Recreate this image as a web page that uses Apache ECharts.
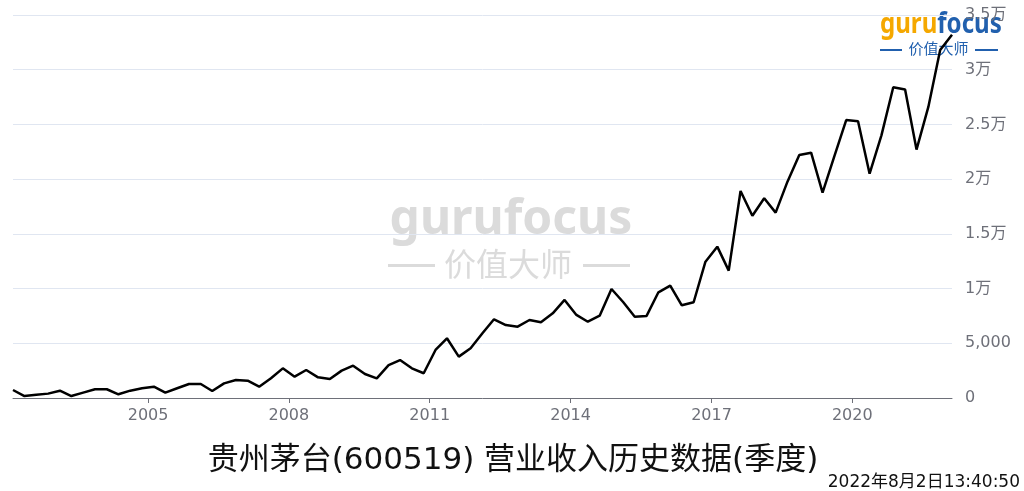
<!DOCTYPE html>
<html>
<head>
<meta charset="utf-8">
<script src="https://cdn.jsdelivr.net/npm/echarts@6/dist/echarts.min.js"></script>
<style>
html,body{margin:0;padding:0;background:#fff;}
#c{width:1024px;height:491px;}
</style>
</head>
<body>
<div id="c"></div>
<script>
// Quarterly periods (plotted at mid-month of the reporting month)
const quarters = [
'2002-02-15','2002-05-15','2002-08-15','2002-11-15',
'2003-02-15','2003-05-15','2003-08-15','2003-11-15',
'2004-02-15','2004-05-15','2004-08-15','2004-11-15',
'2005-02-15','2005-05-15','2005-08-15','2005-11-15',
'2006-02-15','2006-05-15','2006-08-15','2006-11-15',
'2007-02-15','2007-05-15','2007-08-15','2007-11-15',
'2008-02-15','2008-05-15','2008-08-15','2008-11-15',
'2009-02-15','2009-05-15','2009-08-15','2009-11-15',
'2010-02-15','2010-05-15','2010-08-15','2010-11-15',
'2011-02-15','2011-05-15','2011-08-15','2011-11-15',
'2012-02-15','2012-05-15','2012-08-15','2012-11-15',
'2013-02-15','2013-05-15','2013-08-15','2013-11-15',
'2014-02-15','2014-05-15','2014-08-15','2014-11-15',
'2015-02-15','2015-05-15','2015-08-15','2015-11-15',
'2016-02-15','2016-05-15','2016-08-15','2016-11-15',
'2017-02-15','2017-05-15','2017-08-15','2017-11-15',
'2018-02-15','2018-05-15','2018-08-15','2018-11-15',
'2019-02-15','2019-05-15','2019-08-15','2019-11-15',
'2020-02-15','2020-05-15','2020-08-15','2020-11-15',
'2021-02-15','2021-05-15','2021-08-15','2021-11-15',
'2022-02-15'
];
// 营业收入 (quarterly)
const revenue = [
730, 180, 300, 400, 670, 180, 490, 800, 800, 340,
670, 890, 1030, 490, 890, 1280, 1280, 640, 1340, 1640,
1580, 1030, 1800, 2710, 1950, 2560, 1890, 1740, 2500, 2950,
2190, 1800, 3000, 3470, 2710, 2260, 4390, 5460, 3780, 4540,
5910, 7190, 6670, 6520, 7130, 6920, 7740, 8960, 7590, 6970,
7520, 9960, 8750, 7430, 7500, 9660, 10270, 8470, 8750, 12460,
13830, 11640, 18920, 16660, 18250, 16940, 19770, 22210, 22420, 18770,
22100, 25400, 25300, 20500, 24000, 28400, 28200, 22700, 26600, 31800,
33200
];
const tickYears = ['2005','2008','2011','2014','2017','2020'];
const yTicks = [0, 5000, 10000, 15000, 20000, 25000, 30000, 35000];
const titleText = '贵州茅台(600519) 营业收入历史数据(季度)';
const stampText = '2022年8月2日13:40:50';

const chart = echarts.init(document.getElementById('c'));
const ts = s => Date.parse(s + 'T00:00:00Z');
const seriesData = quarters.map((q, i) => [ts(q), revenue[i]]);
const tickTs = tickYears.map(y => ts(y + '-01-01'));
const fontCJK = '"Noto Sans CJK SC", "Noto Sans", sans-serif';
const fontMix = '"DejaVu Sans", "Noto Sans CJK SC", sans-serif';
const wmColor = '#dbdbdb';
const blue = '#2160AE';

chart.setOption({
  animation: false,
  backgroundColor: '#fff',
  grid: { left: 13, right: 72, top: 15, bottom: 93, containLabel: false },
  xAxis: {
    type: 'value',
    min: ts(quarters[0]),
    max: ts(quarters[quarters.length - 1]),
    splitLine: { show: false },
    axisLine: { lineStyle: { color: '#6E7079', width: 1 } },
    axisTick: { show: true, customValues: tickTs, length: 5 },
    axisLabel: {
      customValues: tickTs,
      formatter: v => String(new Date(v).getUTCFullYear()),
      color: '#6E7079', fontSize: 16, margin: 10, fontFamily: fontMix
    }
  },
  yAxis: {
    type: 'value',
    position: 'right',
    min: yTicks[0],
    max: yTicks[yTicks.length - 1],
    interval: 5000,
    axisLine: { show: false },
    axisTick: { show: false },
    splitLine: { lineStyle: { color: '#E0E6F1' } },
    axisLabel: {
      margin: 13,
      color: '#6E7079', fontSize: 16, fontFamily: fontMix,
      formatter: v => v === 0 ? '0' : (v < 10000 ? v.toLocaleString('en-US') : (v / 10000) + '万')
    }
  },
  series: [{
    type: 'line',
    data: seriesData,
    showSymbol: false,
    symbol: 'none',
    lineStyle: { color: '#000', width: 2.5 },
    z: 3
  }],
  graphic: [
    // centre watermark
    { type: 'text', x: 511, y: 220, z: -1, style: {
        text: 'gurufocus', fill: wmColor, font: 'bold 48px "Noto Sans", sans-serif',
        align: 'center', verticalAlign: 'middle' } },
    { type: 'text', x: 508, y: 264, z: -1, style: {
        text: '价值大师', fill: wmColor, font: '32px ' + fontCJK,
        align: 'center', verticalAlign: 'middle' } },
    { type: 'rect', z: -1, shape: { x: 388, y: 264, width: 47, height: 3 }, style: { fill: wmColor } },
    { type: 'rect', z: -1, shape: { x: 583, y: 264, width: 47, height: 3 }, style: { fill: wmColor } },
    // top-right logo
    { type: 'text', x: 880, y: 25, scaleX: 0.86, z: -1, style: {
        rich: {
          a: { fill: '#F5A800', font: 'bold 28px "Noto Sans", sans-serif' },
          b: { fill: blue, font: 'bold 28px "Noto Sans", sans-serif' }
        },
        text: '{a|guru}{b|focus}', verticalAlign: 'middle' } },
    { type: 'text', x: 938.5, y: 48, z: -1, style: {
        text: '价值大师', fill: blue, font: '15px ' + fontCJK,
        align: 'center', verticalAlign: 'middle' } },
    { type: 'rect', z: -1, shape: { x: 880, y: 49, width: 22, height: 2 }, style: { fill: blue } },
    { type: 'rect', z: -1, shape: { x: 975, y: 49, width: 23, height: 2 }, style: { fill: blue } },
    // title
    { type: 'text', x: 513, y: 461, style: {
        text: titleText, fill: '#111', font: '31px ' + fontMix,
        align: 'center', verticalAlign: 'middle' } },
    // timestamp
    { type: 'text', x: 1020, y: 483, style: {
        text: stampText, fill: '#111', font: '17px ' + fontMix,
        align: 'right', verticalAlign: 'middle' } }
  ]
});
</script>
</body>
</html>
